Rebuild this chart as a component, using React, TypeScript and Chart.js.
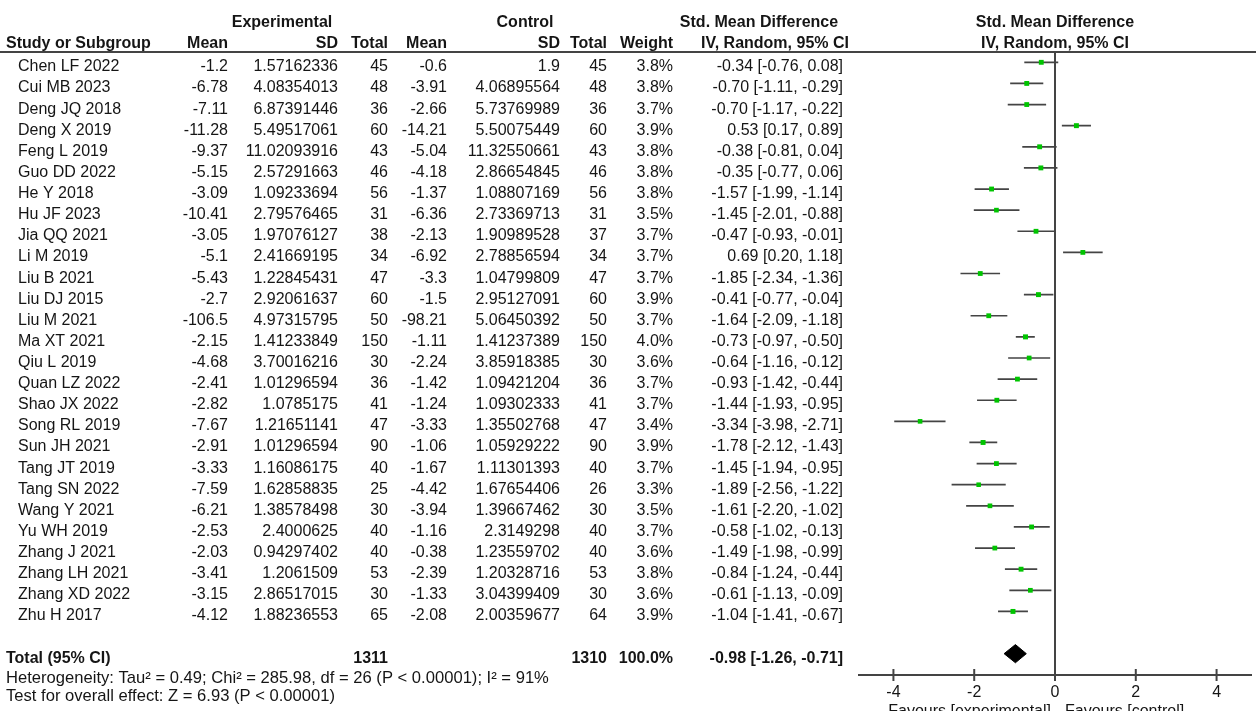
import React, { useEffect, useRef } from 'react';
import { Chart, registerables } from 'chart.js';

Chart.register(...registerables);

const W = 1256;
const H = 711;

// ---------------- data ----------------
const studies = [
  'Chen LF 2022', 'Cui MB 2023', 'Deng JQ 2018', 'Deng X 2019', 'Feng L 2019', 'Guo DD 2022',
  'He Y 2018', 'Hu JF 2023', 'Jia QQ 2021', 'Li M 2019', 'Liu B 2021', 'Liu DJ 2015',
  'Liu M 2021', 'Ma XT 2021', 'Qiu L 2019', 'Quan LZ 2022', 'Shao JX 2022', 'Song RL 2019',
  'Sun JH 2021', 'Tang JT 2019', 'Tang SN 2022', 'Wang Y 2021', 'Yu WH 2019', 'Zhang J 2021',
  'Zhang LH 2021', 'Zhang XD 2022', 'Zhu H 2017',
];
const expMean = [-1.2, -6.78, -7.11, -11.28, -9.37, -5.15, -3.09, -10.41, -3.05, -5.1, -5.43, -2.7, -106.5, -2.15, -4.68, -2.41, -2.82, -7.67, -2.91, -3.33, -7.59, -6.21, -2.53, -2.03, -3.41, -3.15, -4.12];
const expSD = [1.57162336, 4.08354013, 6.87391446, 5.49517061, 11.02093916, 2.57291663, 1.09233694, 2.79576465, 1.97076127, 2.41669195, 1.22845431, 2.92061637, 4.97315795, 1.41233849, 3.70016216, 1.01296594, 1.0785175, 1.21651141, 1.01296594, 1.16086175, 1.62858835, 1.38578498, 2.4000625, 0.94297402, 1.2061509, 2.86517015, 1.88236553];
const expTotal = [45, 48, 36, 60, 43, 46, 56, 31, 38, 34, 47, 60, 50, 150, 30, 36, 41, 47, 90, 40, 25, 30, 40, 40, 53, 30, 65];
const ctrlMean = [-0.6, -3.91, -2.66, -14.21, -5.04, -4.18, -1.37, -6.36, -2.13, -6.92, -3.3, -1.5, -98.21, -1.11, -2.24, -1.42, -1.24, -3.33, -1.06, -1.67, -4.42, -3.94, -1.16, -0.38, -2.39, -1.33, -2.08];
const ctrlSD = [1.9, 4.06895564, 5.73769989, 5.50075449, 11.32550661, 2.86654845, 1.08807169, 2.73369713, 1.90989528, 2.78856594, 1.04799809, 2.95127091, 5.06450392, 1.41237389, 3.85918385, 1.09421204, 1.09302333, 1.35502768, 1.05929222, 1.11301393, 1.67654406, 1.39667462, 2.3149298, 1.23559702, 1.20328716, 3.04399409, 2.00359677];
const ctrlTotal = [45, 48, 36, 60, 43, 46, 56, 31, 37, 34, 47, 60, 50, 150, 30, 36, 41, 47, 90, 40, 26, 30, 40, 40, 53, 30, 64];
const weights = [3.8, 3.8, 3.7, 3.9, 3.8, 3.8, 3.8, 3.5, 3.7, 3.7, 3.7, 3.9, 3.7, 4.0, 3.6, 3.7, 3.7, 3.4, 3.9, 3.7, 3.3, 3.5, 3.7, 3.6, 3.8, 3.6, 3.9];
const smd = [-0.34, -0.70, -0.70, 0.53, -0.38, -0.35, -1.57, -1.45, -0.47, 0.69, -1.85, -0.41, -1.64, -0.73, -0.64, -0.93, -1.44, -3.34, -1.78, -1.45, -1.89, -1.61, -0.58, -1.49, -0.84, -0.61, -1.04];
const ciLow = [-0.76, -1.11, -1.17, 0.17, -0.81, -0.77, -1.99, -2.01, -0.93, 0.20, -2.34, -0.77, -2.09, -0.97, -1.16, -1.42, -1.93, -3.98, -2.12, -1.94, -2.56, -2.20, -1.02, -1.98, -1.24, -1.13, -1.41];
const ciHigh = [0.08, -0.29, -0.22, 0.89, 0.04, 0.06, -1.14, -0.88, -0.01, 1.18, -1.36, -0.04, -1.18, -0.50, -0.12, -0.44, -0.95, -2.71, -1.43, -0.95, -1.22, -1.02, -0.13, -0.99, -0.44, -0.09, -0.67];

const totalExp = 1311;
const totalCtrl = 1310;
const totalWeight = 100.0;
const pooled = [-0.98, -1.26, -0.71];
const heterogeneityText = 'Heterogeneity: Tau\u00B2 = 0.49; Chi\u00B2 = 285.98, df = 26 (P < 0.00001); I\u00B2 = 91%';
const overallText = 'Test for overall effect: Z = 6.93 (P < 0.00001)';
const xTicks = [-4, -2, 0, 2, 4];
const favoursLeft = 'Favours [experimental]';
const favoursRight = 'Favours [control]';

// ---------------- layout / style ----------------
const FONT = "'Liberation Sans', Arial, sans-serif";
const FS = 16;
const FS_FOOT = 16.6;
const TEXT = '#151515';
const LINE = '#444444';
const GREEN = '#00c400';

const PLOT_LEFT = 858;
const PLOT_TOP = 52;
const PLOT_BOTTOM = 675;
const X_HALF = 4.877;
const Y_MIN = -0.488;
const Y_MAX = 29.01;
const TEXT_DY = 4.6; // text centre sits a little below the marker row
const HDR_GROUP_DY = -29.7; // from plot top
const HDR_COL_DY = -8.2;
const ROW_TOTAL = 28;
const ROW_HET = 28.95;
const ROW_TEST = 29.83;

const COL = {
  studyHdr: 6,
  study: 18,
  expMean: 228,
  expSD: 338,
  expTotal: 388,
  ctrlMean: 447,
  ctrlSD: 560,
  ctrlTotal: 607,
  weight: 673,
  ci: 843,
  expGroup: 282,
  ctrlGroup: 525,
  smdHdr: 759,
  ivHdr: 775,
};

const fmtCI = (m: number, lo: number, hi: number) => `${m.toFixed(2)} [${lo.toFixed(2)}, ${hi.toFixed(2)}]`;

const forestPlugin = {
  id: 'forestTable',
  beforeDraw(chart: any) {
    const { ctx } = chart;
    ctx.save();
    ctx.fillStyle = '#ffffff';
    ctx.fillRect(0, 0, chart.width, chart.height);
    ctx.restore();
  },
  afterDatasetsDraw(chart: any) {
    const { ctx, chartArea } = chart;
    const xs = chart.scales.x;
    const ys = chart.scales.y;
    const yOf = (r: number) => ys.getPixelForValue(r) + TEXT_DY;
    const x0 = xs.getPixelForValue(0);

    const text = (s: string, x: number, y: number, align: CanvasTextAlign, bold = false, base: CanvasTextBaseline = 'middle', size = FS) => {
      ctx.font = `${bold ? 'bold ' : ''}${size}px ${FONT}`;
      ctx.textAlign = align;
      ctx.textBaseline = base;
      ctx.fillStyle = TEXT;
      ctx.fillText(s, x, y);
    };

    ctx.save();
    // headers
    const gy = chartArea.top + HDR_GROUP_DY;
    const hy = chartArea.top + HDR_COL_DY;
    text('Experimental', COL.expGroup, gy, 'center', true);
    text('Control', COL.ctrlGroup, gy, 'center', true);
    text('Std. Mean Difference', COL.smdHdr, gy, 'center', true);
    text('Std. Mean Difference', x0, gy, 'center', true);
    text('Study or Subgroup', COL.studyHdr, hy, 'left', true);
    text('Mean', COL.expMean, hy, 'right', true);
    text('SD', COL.expSD, hy, 'right', true);
    text('Total', COL.expTotal, hy, 'right', true);
    text('Mean', COL.ctrlMean, hy, 'right', true);
    text('SD', COL.ctrlSD, hy, 'right', true);
    text('Total', COL.ctrlTotal, hy, 'right', true);
    text('Weight', COL.weight, hy, 'right', true);
    text('IV, Random, 95% CI', COL.ivHdr, hy, 'center', true);
    text('IV, Random, 95% CI', x0, hy, 'center', true);

    // header rule
    ctx.strokeStyle = LINE;
    ctx.lineWidth = 2;
    ctx.beginPath();
    ctx.moveTo(0, chartArea.top);
    ctx.lineTo(chart.width, chartArea.top);
    ctx.stroke();

    // study rows
    studies.forEach((s, i) => {
      const y = yOf(i);
      text(s, COL.study, y, 'left');
      text(String(expMean[i]), COL.expMean, y, 'right');
      text(String(expSD[i]), COL.expSD, y, 'right');
      text(String(expTotal[i]), COL.expTotal, y, 'right');
      text(String(ctrlMean[i]), COL.ctrlMean, y, 'right');
      text(String(ctrlSD[i]), COL.ctrlSD, y, 'right');
      text(String(ctrlTotal[i]), COL.ctrlTotal, y, 'right');
      text(`${weights[i].toFixed(1)}%`, COL.weight, y, 'right');
      text(fmtCI(smd[i], ciLow[i], ciHigh[i]), COL.ci, y, 'right');
    });

    // total row
    const ty = yOf(ROW_TOTAL);
    text('Total (95% CI)', COL.studyHdr, ty, 'left', true);
    text(String(totalExp), COL.expTotal, ty, 'right', true);
    text(String(totalCtrl), COL.ctrlTotal, ty, 'right', true);
    text(`${totalWeight.toFixed(1)}%`, COL.weight, ty, 'right', true);
    text(fmtCI(pooled[0], pooled[1], pooled[2]), COL.ci, ty, 'right', true);
    text(heterogeneityText, COL.studyHdr, yOf(ROW_HET), 'left', false, 'middle', FS_FOOT);
    text(overallText, COL.studyHdr, yOf(ROW_TEST), 'left', false, 'middle', FS_FOOT);

    // x axis
    const ay = chartArea.bottom;
    ctx.strokeStyle = LINE;
    ctx.lineWidth = 2;
    ctx.beginPath();
    ctx.moveTo(chartArea.left, ay);
    ctx.lineTo(chartArea.right, ay);
    ctx.stroke();
    xTicks.forEach((t) => {
      const px = xs.getPixelForValue(t);
      ctx.beginPath();
      ctx.moveTo(px, ay - 6);
      ctx.lineTo(px, ay + 6);
      ctx.stroke();
      text(String(t), px, ay + 22, 'center', false, 'alphabetic');
    });
    text(favoursLeft, x0 - 4, ay + 41, 'right', false, 'alphabetic');
    text(favoursRight, x0 + 10, ay + 41, 'left', false, 'alphabetic');
    ctx.restore();
  },
};

export default function App() {
  const ref = useRef<HTMLCanvasElement>(null);

  useEffect(() => {
    document.body.style.margin = '0';
    const canvas = ref.current;
    if (!canvas) return;

    const ciData: any[] = [];
    studies.forEach((_, i) => {
      ciData.push({ x: ciLow[i], y: i });
      ciData.push({ x: ciHigh[i], y: i });
      ciData.push({ x: smd[i], y: null });
    });
    const squareData = studies.map((_, i) => ({ x: smd[i], y: i }));
    const squareRadius = weights.map((w) => 3.4 * Math.sqrt(w / 3.7));
    const dh = 0.43;
    const diamond = [
      { x: pooled[1], y: ROW_TOTAL },
      { x: pooled[0], y: ROW_TOTAL - dh },
      { x: pooled[2], y: ROW_TOTAL },
      { x: pooled[0], y: ROW_TOTAL + dh },
      { x: pooled[1], y: ROW_TOTAL },
    ];

    const chart = new Chart(canvas, {
      type: 'scatter',
      data: {
        datasets: [
          {
            label: 'zero',
            data: [{ x: 0, y: Y_MIN }, { x: 0, y: Y_MAX }],
            showLine: true,
            borderColor: LINE,
            borderWidth: 2,
            pointRadius: 0,
            order: 4,
          } as any,
          {
            label: 'CI',
            data: ciData,
            showLine: true,
            spanGaps: false,
            borderColor: LINE,
            borderWidth: 1.7,
            pointRadius: 0,
            order: 3,
          } as any,
          {
            label: 'SMD',
            data: squareData,
            pointStyle: 'rect',
            pointRadius: squareRadius,
            backgroundColor: GREEN,
            borderWidth: 0,
            order: 2,
          } as any,
          {
            label: 'Total',
            data: diamond,
            showLine: true,
            fill: 'shape',
            backgroundColor: '#000000',
            borderColor: '#000000',
            borderWidth: 1,
            pointRadius: 0,
            tension: 0,
            order: 1,
          } as any,
        ],
      },
      options: {
        animation: false,
        responsive: false,
        maintainAspectRatio: false,
        events: [],
        layout: { padding: { left: PLOT_LEFT, right: 0, top: PLOT_TOP, bottom: H - PLOT_BOTTOM } },
        plugins: { legend: { display: false }, tooltip: { enabled: false }, title: { display: false } },
        scales: {
          x: { type: 'linear', min: -X_HALF, max: X_HALF, display: false },
          y: { type: 'linear', min: Y_MIN, max: Y_MAX, reverse: true, display: false },
        },
      } as any,
      plugins: [forestPlugin as any],
    });
    return () => chart.destroy();
  }, []);

  return (
    <div style={{ width: W, height: H, background: '#fff', overflow: 'hidden' }}>
      <canvas ref={ref} width={W} height={H} style={{ display: 'block', width: W, height: H }} />
    </div>
  );
}
